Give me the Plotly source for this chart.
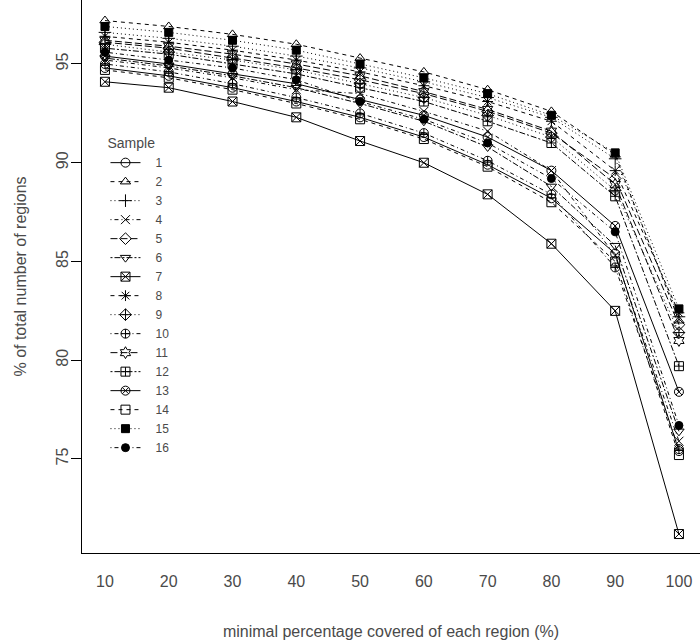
import plotly.graph_objects as go

x_vals = [10, 20, 30, 40, 50, 60, 70, 80, 90, 100]

s1  = [94.8, 94.4, 93.8, 93.1, 92.3, 91.3, 89.9, 88.2, 85.4, 75.4]
s2  = [97.2, 96.9, 96.5, 96.0, 95.3, 94.6, 93.7, 92.6, 90.4, 82.0]
s3  = [96.6, 96.3, 95.9, 95.4, 94.8, 94.1, 93.3, 92.3, 90.2, 82.2]
s4  = [95.2, 94.8, 94.3, 93.7, 93.5, 92.6, 91.6, 89.6, 85.3, 75.9]
s5  = [96.1, 95.8, 95.3, 94.8, 94.2, 93.5, 92.6, 91.5, 89.2, 81.8]
s6  = [95.3, 94.9, 94.4, 93.8, 93.0, 92.1, 90.8, 88.8, 85.8, 76.4]
s7  = [94.1, 93.8, 93.1, 92.3, 91.1, 90.0, 88.4, 85.9, 82.5, 71.2]
s8  = [96.4, 96.1, 95.7, 95.2, 94.6, 93.9, 93.1, 92.1, 89.6, 82.4]
s9  = [96.0, 95.6, 95.2, 94.7, 94.0, 93.3, 92.4, 91.3, 88.6, 81.4]
s10 = [95.0, 94.6, 94.0, 93.3, 92.5, 91.5, 90.1, 88.4, 84.7, 75.5]
s11 = [96.2, 95.9, 95.5, 95.0, 94.4, 93.6, 92.7, 91.6, 88.9, 81.0]
s12 = [95.8, 95.5, 95.0, 94.5, 93.8, 93.1, 92.1, 91.0, 88.3, 79.7]
s13 = [95.4, 95.0, 94.5, 94.0, 93.2, 92.4, 91.3, 89.6, 86.8, 78.4]
s14 = [94.7, 94.3, 93.7, 93.0, 92.2, 91.2, 89.8, 88.0, 85.0, 75.2]
s15 = [96.9, 96.6, 96.2, 95.7, 95.0, 94.3, 93.5, 92.4, 90.5, 82.6]
s16 = [95.6, 95.2, 94.8, 94.2, 93.1, 92.2, 91.0, 89.2, 86.5, 76.7]

series = [s1, s2, s3, s4, s5, s6, s7, s8, s9, s10, s11, s12, s13, s14, s15, s16]
sample_names = [str(i) for i in range(1, 17)]

symbols = ["circle-open", "triangle-up-open", "cross-thin-open", "x-thin-open",
           "diamond-open", "triangle-down-open", "square-x-open", "asterisk-open",
           "diamond-cross-open", "circle-cross-open", "hexagram-open", "square-cross-open",
           "circle-x-open", "square-open", "square", "circle"]
dashes = ["solid", "4px,4px", "1px,3px", "1px,3px,4px,3px", "7px,3px", "2px,2px,6px,2px"]

fig = go.Figure()
for i, (name, ys) in enumerate(zip(sample_names, series)):
    sym = symbols[i]
    size = 9
    if sym in ("circle", "square"):
        size = 8
    fig.add_trace(go.Scatter(
        x=x_vals, y=ys, name="\u00a0\u00a0\u00a0" + name, mode="lines+markers",
        line=dict(color="black", width=1, dash=dashes[i % 6]),
        marker=dict(symbol=sym, size=size, color="black",
                    line=dict(color="black", width=1)),
    ))

font_family = "Liberation Sans, Arial, sans-serif"
txt_color = "#4a4a4a"
fig.update_layout(
    width=700, height=641,
    margin=dict(l=82, r=0, t=0, b=88, autoexpand=False),
    plot_bgcolor="white", paper_bgcolor="white",
    font=dict(family=font_family, size=15, color=txt_color),
    showlegend=True,
    legend=dict(
        x=0.038, y=0.765, xanchor="left", yanchor="top",
        bgcolor="rgba(0,0,0,0)", borderwidth=0,
        font=dict(size=12, color=txt_color),
        title=dict(text="Sample", side="top", font=dict(size=14, color=txt_color)),
        itemwidth=30,
    ),
)
fig.update_xaxes(
    range=[6.4, 103.3], tickmode="array", tickvals=x_vals,
    ticktext=[str(v) for v in x_vals], ticks="", automargin=False,
    ticklabeloverflow="allow", ticklabelstandoff=14,
    showgrid=False, zeroline=False, showline=True, linecolor="black", linewidth=1,
    tickfont=dict(size=16, color=txt_color),
    title=dict(text="minimal percentage covered of each region (%)",
               font=dict(size=16, color=txt_color), standoff=36),
)
fig.update_yaxes(
    range=[70.24, 98.24], tickmode="array", tickvals=[75, 80, 85, 90, 95],
    ticktext=["75", "80", "85", "90", "95"], ticks="outside", ticklen=10,
    tickcolor="black", tickangle=-90, automargin=False, ticklabelstandoff=-3,
    showgrid=False, zeroline=False, showline=True, linecolor="black", linewidth=1,
    tickfont=dict(size=16, color=txt_color),
    title=dict(text="% of total number of regions",
               font=dict(size=16, color=txt_color), standoff=22),
)

fig.write_html("out.html", config={"displayModeBar": False},
               post_script="document.body.style.margin='0px';document.body.style.padding='0px';")
